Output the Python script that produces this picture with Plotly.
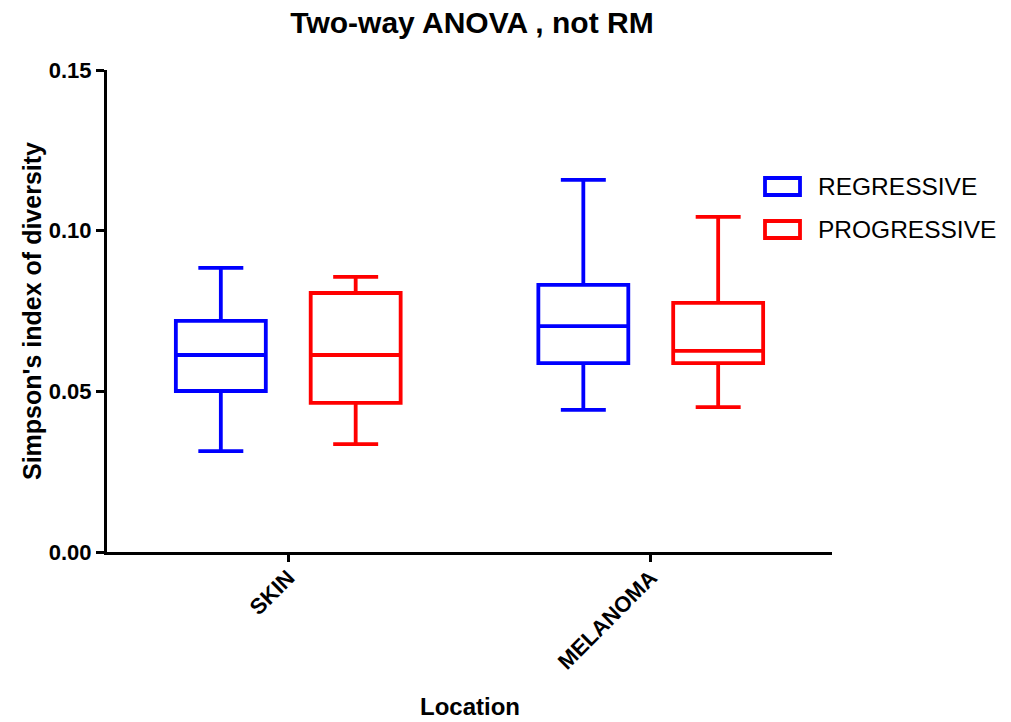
import plotly.graph_objects as go

categories = ["SKIN", "MELANOMA"]
series_names = ["REGRESSIVE", "PROGRESSIVE"]

reg_lower = [0.0314, 0.0442]
reg_q1 = [0.0501, 0.0588]
reg_median = [0.0613, 0.0703]
reg_q3 = [0.0719, 0.0831]
reg_upper = [0.0884, 0.1158]

prog_lower = [0.0336, 0.0451]
prog_q1 = [0.0464, 0.0588]
prog_median = [0.0613, 0.0626]
prog_q3 = [0.0806, 0.0775]
prog_upper = [0.0856, 0.1043]

y_ticks = [0.0, 0.05, 0.10, 0.15]

colors = ["#0000FF", "#FF0000"]
FONT = "Liberation Sans, Arial, sans-serif"

W, H = 1011, 722
L, R, T, B = 107, 179, 70, 170
PW, PH = W - L - R, H - T - B


def px(xp):
    return (xp - L) / PW


def py(yp):
    return (H - B - yp) / PH


fig = go.Figure()
stats = [
    (reg_lower, reg_q1, reg_median, reg_q3, reg_upper),
    (prog_lower, prog_q1, prog_median, prog_q3, prog_upper),
]
for name, col, (lo, q1, med, q3, up) in zip(series_names, colors, stats):
    fig.add_trace(go.Box(
        name=name, x=categories, q1=q1, median=med, q3=q3,
        lowerfence=lo, upperfence=up,
        line=dict(color=col, width=3.8), fillcolor="rgba(255,255,255,0)",
        whiskerwidth=0.5, boxpoints=False, showlegend=False,
    ))

# custom legend swatches (rectangles) and labels
legend_rows = [186.5, 229.5]
shapes = []
annotations = []
for name, col, yc in zip(series_names, colors, legend_rows):
    shapes.append(dict(type="rect", xref="paper", yref="paper",
                       x0=px(765), x1=px(800), y0=py(yc - 8.5), y1=py(yc + 8.5),
                       line=dict(color=col, width=3.8), fillcolor="rgba(0,0,0,0)"))
    annotations.append(dict(text=name, xref="paper", yref="paper",
                            x=px(816), y=py(yc), xanchor="left", yanchor="middle",
                            showarrow=False, font=dict(family=FONT, size=24.5, color="black")))

annotations.append(dict(text="<b>Location</b>", xref="paper", yref="paper",
                        x=0.5, y=py(706), xanchor="center", yanchor="middle",
                        showarrow=False, font=dict(family=FONT, size=24, color="black")))
annotations.append(dict(text="<b>Simpson's index of diversity</b>", xref="paper", yref="paper",
                        x=px(32), y=py(311), xanchor="center", yanchor="middle", textangle=-90,
                        showarrow=False, font=dict(family=FONT, size=25, color="black")))

fig.update_layout(
    width=W, height=H,
    margin=dict(l=L, r=R, t=T, b=B, autoexpand=False),
    paper_bgcolor="white", plot_bgcolor="white",
    boxmode="group", boxgap=0.256, boxgroupgap=0.333,
    title=dict(text="<b>Two-way ANOVA , not RM</b>", x=px(472), xref="paper", xanchor="center",
               y=1 - 22 / H, yref="container", yanchor="middle",
               font=dict(family=FONT, size=30, color="black")),
    showlegend=False,
    shapes=shapes, annotations=annotations,
    font=dict(family=FONT, color="black"),
)
fig.update_xaxes(
    type="category", categoryorder="array", categoryarray=categories,
    range=[-0.5, 1.5], showline=True, linecolor="black", linewidth=3,
    ticks="outside", ticklen=7, tickwidth=2.5, tickcolor="black",
    tickangle=-45, showgrid=False, zeroline=False, ticklabelstandoff=-6,
    tickfont=dict(family=FONT, size=22, color="black", weight="bold"),
)
fig.update_yaxes(
    range=[0, 0.15], tickvals=y_ticks, tickformat=".2f",
    showline=True, linecolor="black", linewidth=3,
    ticks="outside", ticklen=8, tickwidth=3, tickcolor="black",
    showgrid=False, zeroline=False,
    tickfont=dict(family=FONT, size=22, color="black", weight="bold"),
)

fig.write_html("out.html", config={"displayModeBar": False},
               post_script="document.body.style.margin='0';document.body.style.padding='0';")
